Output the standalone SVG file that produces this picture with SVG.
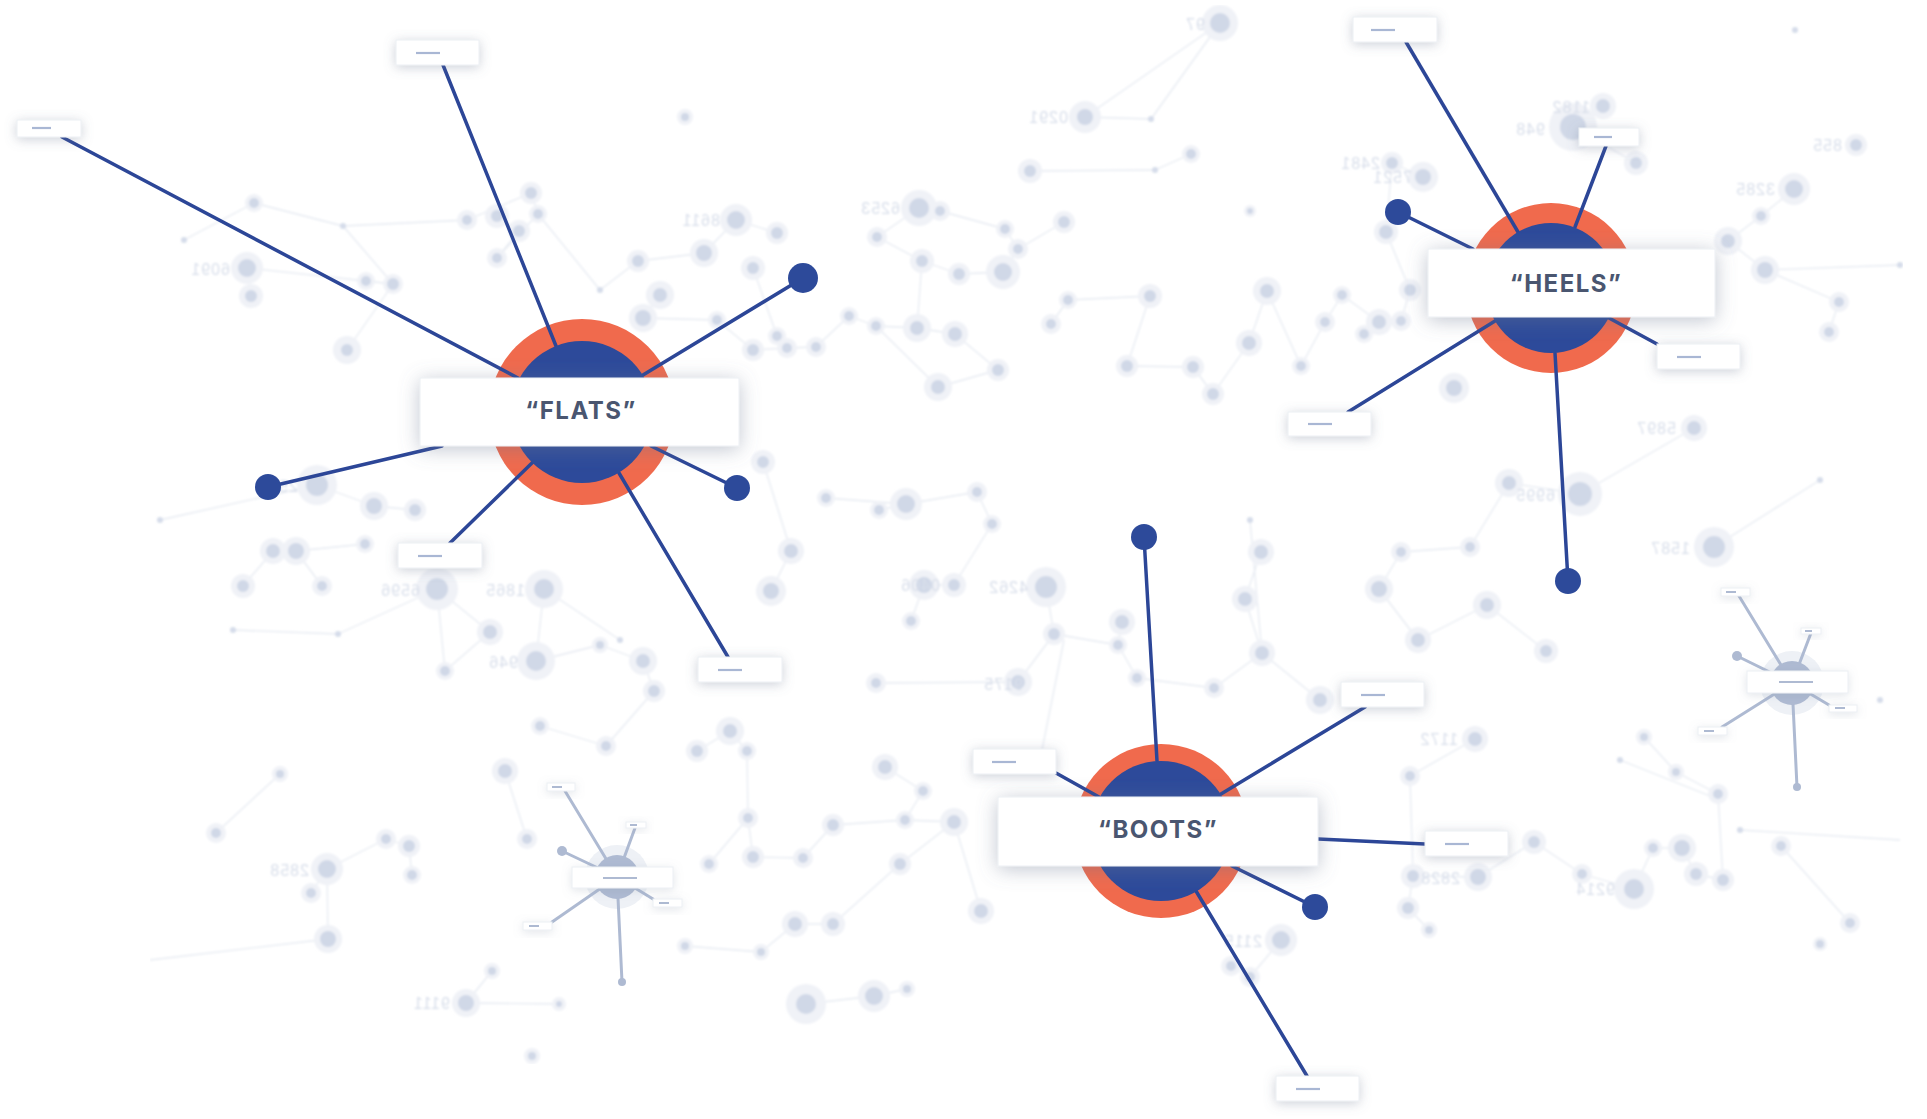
<svg xmlns="http://www.w3.org/2000/svg" width="1927" height="1119" viewBox="0 0 1927 1119">
<defs>
<style>
.bgl{stroke:#e7ebf2;stroke-width:1.3;fill:none}
.halo{fill:#f0f2f7}
.core{fill:#d0d8e7}
.pt{fill:#d5dcea}
.bgt{font-family:"Liberation Sans",Arial,sans-serif;font-size:16px;fill:#d8deea;letter-spacing:1px}
.ring{fill:#f06a4d}
.hub{fill:#2d4a9a}
.spoke{stroke:#2c4697;stroke-width:3.5;fill:none;stroke-linecap:round}
.dot{fill:#2d4a9a}
.box{fill:#ffffff;stroke:#eceff4;stroke-width:1}
.dash{stroke:#a9b7d4;stroke-width:2.2}
.lbl{font-family:Inter,"Liberation Sans",Arial,sans-serif;font-weight:700;font-size:24px;fill:#4a5670;letter-spacing:1.5px;text-anchor:middle}
.fsp{stroke:#aebad2;stroke-width:3;stroke-linecap:round;fill:none}
.fhub{fill:#aebad2}
.fhalo{fill:#eef1f6}
.fdash{stroke:#aebad2;stroke-width:2}
</style>
<filter id="sh" x="-20%" y="-60%" width="140%" height="220%">
<feDropShadow dx="0" dy="3" stdDeviation="10" flood-color="#6d7890" flood-opacity="0.42"/>
</filter>
<filter id="ssh" x="-40%" y="-100%" width="180%" height="300%">
<feDropShadow dx="0" dy="2" stdDeviation="6" flood-color="#6d7890" flood-opacity="0.35"/>
</filter>
<filter id="fsh" x="-40%" y="-100%" width="180%" height="300%">
<feDropShadow dx="0" dy="2" stdDeviation="5" flood-color="#8a93a8" flood-opacity="0.25"/>
</filter>
<filter id="soft" x="0" y="0" width="100%" height="100%">
<feGaussianBlur stdDeviation="0.8"/>
</filter>
</defs>
<rect width="1927" height="1119" fill="#ffffff"/>

<g id="background" filter="url(#soft)">
<g class="bgl">
<line x1="184" y1="240" x2="254" y2="203"/><line x1="254" y1="203" x2="343" y2="226"/><line x1="343" y1="226" x2="393" y2="284"/>
<line x1="393" y1="284" x2="347" y2="350"/><line x1="247" y1="268" x2="366" y2="281"/><line x1="366" y1="281" x2="393" y2="284"/>
<line x1="343" y1="226" x2="467" y2="220"/><line x1="467" y1="220" x2="531" y2="193"/><line x1="497" y1="216" x2="519" y2="231"/>
<line x1="519" y1="231" x2="497" y2="258"/><line x1="497" y1="258" x2="538" y2="214"/><line x1="538" y1="214" x2="600" y2="290"/>
<line x1="531" y1="193" x2="538" y2="214"/><line x1="600" y1="290" x2="638" y2="261"/><line x1="638" y1="261" x2="704" y2="253"/>
<line x1="704" y1="253" x2="736" y2="220"/><line x1="736" y1="220" x2="777" y2="233"/><line x1="753" y1="268" x2="777" y2="336"/>
<line x1="660" y1="295" x2="643" y2="318"/><line x1="643" y1="318" x2="717" y2="320"/><line x1="717" y1="320" x2="753" y2="350"/>
<line x1="753" y1="350" x2="787" y2="348"/><line x1="787" y1="348" x2="816" y2="347"/><line x1="816" y1="347" x2="849" y2="316"/>
<line x1="849" y1="316" x2="876" y2="326"/><line x1="876" y1="326" x2="917" y2="328"/><line x1="917" y1="328" x2="955" y2="334"/>
<line x1="919" y1="208" x2="940" y2="211"/><line x1="877" y1="237" x2="919" y2="208"/><line x1="877" y1="237" x2="922" y2="261"/>
<line x1="922" y1="261" x2="959" y2="274"/><line x1="959" y1="274" x2="1003" y2="272"/><line x1="1003" y1="272" x2="1018" y2="249"/>
<line x1="1018" y1="249" x2="1064" y2="222"/><line x1="1005" y1="229" x2="1018" y2="249"/><line x1="940" y1="211" x2="1005" y2="229"/>
<line x1="922" y1="261" x2="917" y2="328"/><line x1="955" y1="334" x2="998" y2="370"/><line x1="998" y1="370" x2="938" y2="387"/>
<line x1="938" y1="387" x2="876" y2="326"/><line x1="1051" y1="324" x2="1068" y2="300"/><line x1="1068" y1="300" x2="1150" y2="296"/>
<line x1="1150" y1="296" x2="1127" y2="366"/><line x1="1127" y1="366" x2="1193" y2="367"/><line x1="1193" y1="367" x2="1213" y2="394"/>
<line x1="1213" y1="394" x2="1249" y2="343"/><line x1="1249" y1="343" x2="1267" y2="291"/><line x1="1267" y1="291" x2="1301" y2="366"/>
<line x1="1301" y1="366" x2="1325" y2="322"/><line x1="1325" y1="322" x2="1342" y2="295"/><line x1="1342" y1="295" x2="1379" y2="322"/>
<line x1="1379" y1="322" x2="1401" y2="321"/><line x1="1401" y1="321" x2="1410" y2="290"/><line x1="1410" y1="290" x2="1386" y2="232"/>
<line x1="1386" y1="232" x2="1392" y2="163"/><line x1="1392" y1="163" x2="1423" y2="177"/>
<line x1="1085" y1="117" x2="1220" y2="23"/><line x1="1151" y1="119" x2="1220" y2="23"/><line x1="1085" y1="117" x2="1151" y2="119"/>
<line x1="1030" y1="171" x2="1155" y2="170"/><line x1="1155" y1="170" x2="1191" y2="154"/>
<line x1="1603" y1="106" x2="1573" y2="127"/><line x1="1636" y1="163" x2="1573" y2="127"/>
<line x1="1794" y1="189" x2="1761" y2="216"/><line x1="1761" y1="216" x2="1728" y2="241"/><line x1="1728" y1="241" x2="1765" y2="270"/>
<line x1="1765" y1="270" x2="1839" y2="302"/><line x1="1839" y1="302" x2="1829" y2="332"/><line x1="1765" y1="270" x2="1900" y2="265"/>
<line x1="1694" y1="428" x2="1580" y2="494"/><line x1="1580" y1="494" x2="1509" y2="483"/><line x1="1509" y1="483" x2="1470" y2="547"/>
<line x1="1470" y1="547" x2="1401" y2="552"/><line x1="1401" y1="552" x2="1379" y2="589"/><line x1="1379" y1="589" x2="1418" y2="640"/>
<line x1="1418" y1="640" x2="1487" y2="605"/><line x1="1487" y1="605" x2="1546" y2="651"/><line x1="1714" y1="547" x2="1820" y2="480"/>
<line x1="1475" y1="739" x2="1410" y2="776"/><line x1="1410" y1="776" x2="1413" y2="876"/><line x1="1413" y1="876" x2="1478" y2="877"/>
<line x1="1478" y1="877" x2="1534" y2="842"/><line x1="1534" y1="842" x2="1582" y2="874"/><line x1="1582" y1="874" x2="1634" y2="889"/>
<line x1="1634" y1="889" x2="1653" y2="848"/><line x1="1653" y1="848" x2="1682" y2="848"/><line x1="1682" y1="848" x2="1696" y2="874"/>
<line x1="1696" y1="874" x2="1723" y2="880"/><line x1="1718" y1="794" x2="1676" y2="772"/><line x1="1676" y1="772" x2="1644" y2="737"/>
<line x1="1718" y1="794" x2="1723" y2="880"/><line x1="1781" y1="846" x2="1850" y2="923"/><line x1="1408" y1="908" x2="1429" y2="930"/>
<line x1="1413" y1="876" x2="1408" y2="908"/><line x1="1620" y1="760" x2="1720" y2="800"/><line x1="1740" y1="830" x2="1900" y2="840"/>
<line x1="317" y1="485" x2="374" y2="506"/><line x1="374" y1="506" x2="415" y2="510"/><line x1="273" y1="551" x2="296" y2="551"/>
<line x1="296" y1="551" x2="365" y2="544"/><line x1="243" y1="586" x2="273" y2="551"/><line x1="322" y1="586" x2="296" y2="551"/>
<line x1="437" y1="589" x2="490" y2="632"/><line x1="437" y1="589" x2="445" y2="671"/><line x1="490" y1="632" x2="445" y2="671"/>
<line x1="437" y1="589" x2="338" y2="634"/><line x1="338" y1="634" x2="233" y2="630"/><line x1="544" y1="589" x2="536" y2="661"/>
<line x1="536" y1="661" x2="600" y2="645"/><line x1="600" y1="645" x2="643" y2="661"/><line x1="643" y1="661" x2="654" y2="691"/>
<line x1="654" y1="691" x2="606" y2="746"/><line x1="606" y1="746" x2="540" y2="726"/><line x1="771" y1="591" x2="791" y2="551"/>
<line x1="791" y1="551" x2="763" y2="462"/><line x1="826" y1="498" x2="906" y2="504"/><line x1="906" y1="504" x2="879" y2="510"/>
<line x1="906" y1="504" x2="977" y2="492"/><line x1="977" y1="492" x2="992" y2="524"/><line x1="992" y1="524" x2="954" y2="585"/>
<line x1="954" y1="585" x2="924" y2="585"/><line x1="924" y1="585" x2="911" y2="621"/><line x1="1046" y1="587" x2="1054" y2="634"/>
<line x1="1054" y1="634" x2="1118" y2="645"/><line x1="1122" y1="622" x2="1118" y2="645"/><line x1="1118" y1="645" x2="1137" y2="678"/>
<line x1="1137" y1="678" x2="1214" y2="688"/><line x1="1214" y1="688" x2="1262" y2="653"/><line x1="1262" y1="653" x2="1245" y2="599"/>
<line x1="1245" y1="599" x2="1261" y2="552"/><line x1="1262" y1="653" x2="1320" y2="700"/><line x1="1018" y1="682" x2="1054" y2="634"/>
<line x1="876" y1="683" x2="1018" y2="682"/><line x1="730" y1="731" x2="697" y2="751"/><line x1="730" y1="731" x2="747" y2="751"/>
<line x1="747" y1="751" x2="748" y2="818"/><line x1="748" y1="818" x2="709" y2="864"/><line x1="748" y1="818" x2="753" y2="857"/>
<line x1="753" y1="857" x2="803" y2="858"/><line x1="803" y1="858" x2="833" y2="825"/><line x1="833" y1="825" x2="905" y2="820"/>
<line x1="905" y1="820" x2="923" y2="791"/><line x1="905" y1="820" x2="954" y2="822"/><line x1="885" y1="767" x2="923" y2="791"/>
<line x1="900" y1="864" x2="954" y2="822"/><line x1="900" y1="864" x2="833" y2="924"/><line x1="833" y1="924" x2="795" y2="924"/>
<line x1="795" y1="924" x2="761" y2="952"/><line x1="981" y1="911" x2="954" y2="822"/><line x1="874" y1="996" x2="907" y2="989"/>
<line x1="806" y1="1004" x2="874" y2="996"/><line x1="685" y1="946" x2="761" y2="952"/><line x1="505" y1="771" x2="527" y2="839"/>
<line x1="409" y1="846" x2="386" y2="839"/><line x1="386" y1="839" x2="327" y2="869"/><line x1="327" y1="869" x2="311" y2="893"/>
<line x1="327" y1="869" x2="328" y2="939"/><line x1="412" y1="875" x2="409" y2="846"/><line x1="466" y1="1003" x2="559" y2="1004"/>
<line x1="466" y1="1003" x2="492" y2="971"/><line x1="216" y1="833" x2="280" y2="774"/><line x1="1250" y1="977" x2="1281" y2="940"/>
<line x1="1231" y1="966" x2="1250" y2="977"/><line x1="160" y1="520" x2="317" y2="485"/><line x1="150" y1="960" x2="328" y2="939"/>
<line x1="544" y1="589" x2="620" y2="640"/><line x1="1064" y1="640" x2="1040" y2="760"/><line x1="1250" y1="520" x2="1262" y2="653"/>
</g>
<g>
<circle class="halo" cx="1220" cy="23" r="18"/><circle class="core" cx="1220" cy="23" r="10"/>
<circle class="halo" cx="1085" cy="117" r="16"/><circle class="core" cx="1085" cy="117" r="8"/>
<circle class="halo" cx="1030" cy="171" r="12"/><circle class="core" cx="1030" cy="171" r="6"/>
<circle class="halo" cx="1191" cy="154" r="9"/><circle class="core" cx="1191" cy="154" r="5"/>
<circle class="halo" cx="685" cy="117" r="8"/><circle class="core" cx="685" cy="117" r="4"/>
<circle class="halo" cx="1603" cy="106" r="13"/><circle class="core" cx="1603" cy="106" r="7"/>
<circle class="halo" cx="1573" cy="127" r="24"/><circle class="core" cx="1573" cy="127" r="13"/>
<circle class="halo" cx="1636" cy="163" r="12"/><circle class="core" cx="1636" cy="163" r="6"/>
<circle class="halo" cx="1423" cy="177" r="15"/><circle class="core" cx="1423" cy="177" r="8"/>
<circle class="halo" cx="1392" cy="163" r="11"/><circle class="core" cx="1392" cy="163" r="6"/>
<circle class="halo" cx="1386" cy="232" r="12"/><circle class="core" cx="1386" cy="232" r="7"/>
<circle class="halo" cx="1794" cy="189" r="16"/><circle class="core" cx="1794" cy="189" r="9"/>
<circle class="halo" cx="1856" cy="145" r="11"/><circle class="core" cx="1856" cy="145" r="6"/>
<circle class="halo" cx="1728" cy="241" r="14"/><circle class="core" cx="1728" cy="241" r="7"/>
<circle class="halo" cx="1765" cy="270" r="14"/><circle class="core" cx="1765" cy="270" r="8"/>
<circle class="halo" cx="1839" cy="302" r="10"/><circle class="core" cx="1839" cy="302" r="5"/>
<circle class="halo" cx="1829" cy="332" r="10"/><circle class="core" cx="1829" cy="332" r="5"/>
<circle class="halo" cx="1761" cy="216" r="9"/><circle class="core" cx="1761" cy="216" r="5"/>
<circle class="halo" cx="1694" cy="428" r="13"/><circle class="core" cx="1694" cy="428" r="7"/>
<circle class="halo" cx="1580" cy="494" r="22"/><circle class="core" cx="1580" cy="494" r="12"/>
<circle class="halo" cx="1509" cy="483" r="14"/><circle class="core" cx="1509" cy="483" r="7"/>
<circle class="halo" cx="1714" cy="547" r="20"/><circle class="core" cx="1714" cy="547" r="11"/>
<circle class="halo" cx="1470" cy="547" r="10"/><circle class="core" cx="1470" cy="547" r="5"/>
<circle class="halo" cx="1401" cy="552" r="10"/><circle class="core" cx="1401" cy="552" r="5"/>
<circle class="halo" cx="1379" cy="589" r="14"/><circle class="core" cx="1379" cy="589" r="8"/>
<circle class="halo" cx="1418" cy="640" r="13"/><circle class="core" cx="1418" cy="640" r="7"/>
<circle class="halo" cx="1487" cy="605" r="14"/><circle class="core" cx="1487" cy="605" r="7"/>
<circle class="halo" cx="1546" cy="651" r="12"/><circle class="core" cx="1546" cy="651" r="6"/>
<circle class="halo" cx="1475" cy="739" r="13"/><circle class="core" cx="1475" cy="739" r="7"/>
<circle class="halo" cx="1410" cy="776" r="10"/><circle class="core" cx="1410" cy="776" r="5"/>
<circle class="halo" cx="1534" cy="842" r="12"/><circle class="core" cx="1534" cy="842" r="6"/>
<circle class="halo" cx="1478" cy="877" r="14"/><circle class="core" cx="1478" cy="877" r="8"/>
<circle class="halo" cx="1413" cy="876" r="12"/><circle class="core" cx="1413" cy="876" r="6"/>
<circle class="halo" cx="1408" cy="908" r="11"/><circle class="core" cx="1408" cy="908" r="6"/>
<circle class="halo" cx="1429" cy="930" r="8"/><circle class="core" cx="1429" cy="930" r="4"/>
<circle class="halo" cx="1582" cy="874" r="10"/><circle class="core" cx="1582" cy="874" r="5"/>
<circle class="halo" cx="1634" cy="889" r="20"/><circle class="core" cx="1634" cy="889" r="10"/>
<circle class="halo" cx="1653" cy="848" r="9"/><circle class="core" cx="1653" cy="848" r="5"/>
<circle class="halo" cx="1682" cy="848" r="14"/><circle class="core" cx="1682" cy="848" r="8"/>
<circle class="halo" cx="1696" cy="874" r="12"/><circle class="core" cx="1696" cy="874" r="6"/>
<circle class="halo" cx="1723" cy="880" r="11"/><circle class="core" cx="1723" cy="880" r="6"/>
<circle class="halo" cx="1781" cy="846" r="10"/><circle class="core" cx="1781" cy="846" r="5"/>
<circle class="halo" cx="1718" cy="794" r="10"/><circle class="core" cx="1718" cy="794" r="5"/>
<circle class="halo" cx="1676" cy="772" r="8"/><circle class="core" cx="1676" cy="772" r="4"/>
<circle class="halo" cx="1850" cy="923" r="10"/><circle class="core" cx="1850" cy="923" r="5"/>
<circle class="halo" cx="1820" cy="944" r="7"/><circle class="core" cx="1820" cy="944" r="4"/>
<circle class="halo" cx="1644" cy="737" r="8"/><circle class="core" cx="1644" cy="737" r="4"/>
<circle class="halo" cx="254" cy="203" r="9"/><circle class="core" cx="254" cy="203" r="5"/>
<circle class="halo" cx="247" cy="268" r="16"/><circle class="core" cx="247" cy="268" r="9"/>
<circle class="halo" cx="251" cy="296" r="12"/><circle class="core" cx="251" cy="296" r="6"/>
<circle class="halo" cx="347" cy="350" r="14"/><circle class="core" cx="347" cy="350" r="6"/>
<circle class="halo" cx="393" cy="284" r="10"/><circle class="core" cx="393" cy="284" r="6"/>
<circle class="halo" cx="366" cy="281" r="9"/><circle class="core" cx="366" cy="281" r="5"/>
<circle class="halo" cx="467" cy="220" r="10"/><circle class="core" cx="467" cy="220" r="5"/>
<circle class="halo" cx="497" cy="216" r="12"/><circle class="core" cx="497" cy="216" r="6"/>
<circle class="halo" cx="531" cy="193" r="11"/><circle class="core" cx="531" cy="193" r="6"/>
<circle class="halo" cx="538" cy="214" r="9"/><circle class="core" cx="538" cy="214" r="5"/>
<circle class="halo" cx="519" cy="231" r="11"/><circle class="core" cx="519" cy="231" r="6"/>
<circle class="halo" cx="497" cy="258" r="10"/><circle class="core" cx="497" cy="258" r="5"/>
<circle class="halo" cx="638" cy="261" r="11"/><circle class="core" cx="638" cy="261" r="6"/>
<circle class="halo" cx="704" cy="253" r="14"/><circle class="core" cx="704" cy="253" r="8"/>
<circle class="halo" cx="736" cy="220" r="16"/><circle class="core" cx="736" cy="220" r="9"/>
<circle class="halo" cx="777" cy="233" r="11"/><circle class="core" cx="777" cy="233" r="6"/>
<circle class="halo" cx="753" cy="268" r="12"/><circle class="core" cx="753" cy="268" r="6"/>
<circle class="halo" cx="660" cy="295" r="14"/><circle class="core" cx="660" cy="295" r="7"/>
<circle class="halo" cx="643" cy="318" r="14"/><circle class="core" cx="643" cy="318" r="8"/>
<circle class="halo" cx="717" cy="320" r="9"/><circle class="core" cx="717" cy="320" r="5"/>
<circle class="halo" cx="753" cy="350" r="11"/><circle class="core" cx="753" cy="350" r="6"/>
<circle class="halo" cx="787" cy="348" r="10"/><circle class="core" cx="787" cy="348" r="5"/>
<circle class="halo" cx="777" cy="336" r="9"/><circle class="core" cx="777" cy="336" r="5"/>
<circle class="halo" cx="816" cy="347" r="10"/><circle class="core" cx="816" cy="347" r="5"/>
<circle class="halo" cx="919" cy="208" r="18"/><circle class="core" cx="919" cy="208" r="10"/>
<circle class="halo" cx="940" cy="211" r="10"/><circle class="core" cx="940" cy="211" r="5"/>
<circle class="halo" cx="877" cy="237" r="10"/><circle class="core" cx="877" cy="237" r="5"/>
<circle class="halo" cx="922" cy="261" r="12"/><circle class="core" cx="922" cy="261" r="6"/>
<circle class="halo" cx="959" cy="274" r="11"/><circle class="core" cx="959" cy="274" r="6"/>
<circle class="halo" cx="1003" cy="272" r="17"/><circle class="core" cx="1003" cy="272" r="9"/>
<circle class="halo" cx="1018" cy="249" r="10"/><circle class="core" cx="1018" cy="249" r="5"/>
<circle class="halo" cx="1064" cy="222" r="11"/><circle class="core" cx="1064" cy="222" r="6"/>
<circle class="halo" cx="1005" cy="229" r="9"/><circle class="core" cx="1005" cy="229" r="5"/>
<circle class="halo" cx="917" cy="328" r="14"/><circle class="core" cx="917" cy="328" r="7"/>
<circle class="halo" cx="955" cy="334" r="13"/><circle class="core" cx="955" cy="334" r="7"/>
<circle class="halo" cx="998" cy="370" r="11"/><circle class="core" cx="998" cy="370" r="6"/>
<circle class="halo" cx="938" cy="387" r="14"/><circle class="core" cx="938" cy="387" r="7"/>
<circle class="halo" cx="876" cy="326" r="9"/><circle class="core" cx="876" cy="326" r="5"/>
<circle class="halo" cx="849" cy="316" r="9"/><circle class="core" cx="849" cy="316" r="5"/>
<circle class="halo" cx="1051" cy="324" r="10"/><circle class="core" cx="1051" cy="324" r="5"/>
<circle class="halo" cx="1127" cy="366" r="11"/><circle class="core" cx="1127" cy="366" r="6"/>
<circle class="halo" cx="1150" cy="296" r="12"/><circle class="core" cx="1150" cy="296" r="6"/>
<circle class="halo" cx="1068" cy="300" r="9"/><circle class="core" cx="1068" cy="300" r="5"/>
<circle class="halo" cx="1193" cy="367" r="11"/><circle class="core" cx="1193" cy="367" r="6"/>
<circle class="halo" cx="1213" cy="394" r="11"/><circle class="core" cx="1213" cy="394" r="6"/>
<circle class="halo" cx="1249" cy="343" r="13"/><circle class="core" cx="1249" cy="343" r="7"/>
<circle class="halo" cx="1267" cy="291" r="14"/><circle class="core" cx="1267" cy="291" r="7"/>
<circle class="halo" cx="1301" cy="366" r="9"/><circle class="core" cx="1301" cy="366" r="5"/>
<circle class="halo" cx="1325" cy="322" r="10"/><circle class="core" cx="1325" cy="322" r="5"/>
<circle class="halo" cx="1342" cy="295" r="9"/><circle class="core" cx="1342" cy="295" r="5"/>
<circle class="halo" cx="1379" cy="322" r="13"/><circle class="core" cx="1379" cy="322" r="7"/>
<circle class="halo" cx="1401" cy="321" r="10"/><circle class="core" cx="1401" cy="321" r="5"/>
<circle class="halo" cx="1410" cy="290" r="11"/><circle class="core" cx="1410" cy="290" r="6"/>
<circle class="halo" cx="1454" cy="388" r="15"/><circle class="core" cx="1454" cy="388" r="8"/>
<circle class="halo" cx="317" cy="485" r="20"/><circle class="core" cx="317" cy="485" r="11"/>
<circle class="halo" cx="374" cy="506" r="14"/><circle class="core" cx="374" cy="506" r="8"/>
<circle class="halo" cx="415" cy="510" r="11"/><circle class="core" cx="415" cy="510" r="6"/>
<circle class="halo" cx="273" cy="551" r="13"/><circle class="core" cx="273" cy="551" r="7"/>
<circle class="halo" cx="296" cy="551" r="14"/><circle class="core" cx="296" cy="551" r="8"/>
<circle class="halo" cx="243" cy="586" r="12"/><circle class="core" cx="243" cy="586" r="6"/>
<circle class="halo" cx="322" cy="586" r="10"/><circle class="core" cx="322" cy="586" r="5"/>
<circle class="halo" cx="365" cy="544" r="9"/><circle class="core" cx="365" cy="544" r="5"/>
<circle class="halo" cx="437" cy="589" r="21"/><circle class="core" cx="437" cy="589" r="11"/>
<circle class="halo" cx="490" cy="632" r="13"/><circle class="core" cx="490" cy="632" r="7"/>
<circle class="halo" cx="544" cy="589" r="19"/><circle class="core" cx="544" cy="589" r="10"/>
<circle class="halo" cx="536" cy="661" r="19"/><circle class="core" cx="536" cy="661" r="10"/>
<circle class="halo" cx="445" cy="671" r="9"/><circle class="core" cx="445" cy="671" r="5"/>
<circle class="pt" cx="338" cy="634" r="3"/><circle class="pt" cx="233" cy="630" r="3"/>
<circle class="halo" cx="771" cy="591" r="15"/><circle class="core" cx="771" cy="591" r="8"/>
<circle class="halo" cx="791" cy="551" r="13"/><circle class="core" cx="791" cy="551" r="7"/>
<circle class="halo" cx="763" cy="462" r="12"/><circle class="core" cx="763" cy="462" r="6"/>
<circle class="halo" cx="826" cy="498" r="9"/><circle class="core" cx="826" cy="498" r="5"/>
<circle class="halo" cx="906" cy="504" r="16"/><circle class="core" cx="906" cy="504" r="9"/>
<circle class="halo" cx="879" cy="510" r="9"/><circle class="core" cx="879" cy="510" r="5"/>
<circle class="halo" cx="977" cy="492" r="10"/><circle class="core" cx="977" cy="492" r="5"/>
<circle class="halo" cx="992" cy="524" r="9"/><circle class="core" cx="992" cy="524" r="5"/>
<circle class="halo" cx="924" cy="585" r="15"/><circle class="core" cx="924" cy="585" r="8"/>
<circle class="halo" cx="954" cy="585" r="12"/><circle class="core" cx="954" cy="585" r="6"/>
<circle class="halo" cx="911" cy="621" r="9"/><circle class="core" cx="911" cy="621" r="5"/>
<circle class="halo" cx="1046" cy="587" r="20"/><circle class="core" cx="1046" cy="587" r="11"/>
<circle class="halo" cx="1054" cy="634" r="11"/><circle class="core" cx="1054" cy="634" r="6"/>
<circle class="halo" cx="1018" cy="682" r="14"/><circle class="core" cx="1018" cy="682" r="7"/>
<circle class="halo" cx="876" cy="683" r="10"/><circle class="core" cx="876" cy="683" r="5"/>
<circle class="halo" cx="1122" cy="622" r="13"/><circle class="core" cx="1122" cy="622" r="7"/>
<circle class="halo" cx="1118" cy="645" r="9"/><circle class="core" cx="1118" cy="645" r="5"/>
<circle class="halo" cx="1137" cy="678" r="9"/><circle class="core" cx="1137" cy="678" r="5"/>
<circle class="halo" cx="1261" cy="552" r="13"/><circle class="core" cx="1261" cy="552" r="7"/>
<circle class="halo" cx="1245" cy="599" r="13"/><circle class="core" cx="1245" cy="599" r="7"/>
<circle class="halo" cx="1262" cy="653" r="13"/><circle class="core" cx="1262" cy="653" r="7"/>
<circle class="halo" cx="1320" cy="700" r="14"/><circle class="core" cx="1320" cy="700" r="7"/>
<circle class="halo" cx="1214" cy="688" r="10"/><circle class="core" cx="1214" cy="688" r="5"/>
<circle class="halo" cx="643" cy="661" r="14"/><circle class="core" cx="643" cy="661" r="7"/>
<circle class="halo" cx="654" cy="691" r="11"/><circle class="core" cx="654" cy="691" r="6"/>
<circle class="halo" cx="600" cy="645" r="8"/><circle class="core" cx="600" cy="645" r="4"/>
<circle class="halo" cx="606" cy="746" r="10"/><circle class="core" cx="606" cy="746" r="5"/>
<circle class="halo" cx="540" cy="726" r="9"/><circle class="core" cx="540" cy="726" r="5"/>
<circle class="halo" cx="730" cy="731" r="14"/><circle class="core" cx="730" cy="731" r="7"/>
<circle class="halo" cx="697" cy="751" r="11"/><circle class="core" cx="697" cy="751" r="6"/>
<circle class="halo" cx="747" cy="751" r="9"/><circle class="core" cx="747" cy="751" r="5"/>
<circle class="halo" cx="885" cy="767" r="13"/><circle class="core" cx="885" cy="767" r="7"/>
<circle class="halo" cx="748" cy="818" r="10"/><circle class="core" cx="748" cy="818" r="5"/>
<circle class="halo" cx="753" cy="857" r="11"/><circle class="core" cx="753" cy="857" r="6"/>
<circle class="halo" cx="709" cy="864" r="9"/><circle class="core" cx="709" cy="864" r="5"/>
<circle class="halo" cx="803" cy="858" r="10"/><circle class="core" cx="803" cy="858" r="5"/>
<circle class="halo" cx="833" cy="825" r="11"/><circle class="core" cx="833" cy="825" r="6"/>
<circle class="halo" cx="905" cy="820" r="9"/><circle class="core" cx="905" cy="820" r="5"/>
<circle class="halo" cx="923" cy="791" r="9"/><circle class="core" cx="923" cy="791" r="5"/>
<circle class="halo" cx="954" cy="822" r="14"/><circle class="core" cx="954" cy="822" r="7"/>
<circle class="halo" cx="981" cy="911" r="13"/><circle class="core" cx="981" cy="911" r="7"/>
<circle class="halo" cx="900" cy="864" r="11"/><circle class="core" cx="900" cy="864" r="6"/>
<circle class="halo" cx="833" cy="924" r="12"/><circle class="core" cx="833" cy="924" r="6"/>
<circle class="halo" cx="795" cy="924" r="13"/><circle class="core" cx="795" cy="924" r="7"/>
<circle class="halo" cx="761" cy="952" r="8"/><circle class="core" cx="761" cy="952" r="4"/>
<circle class="halo" cx="874" cy="996" r="16"/><circle class="core" cx="874" cy="996" r="9"/>
<circle class="halo" cx="806" cy="1004" r="20"/><circle class="core" cx="806" cy="1004" r="10"/>
<circle class="halo" cx="907" cy="989" r="8"/><circle class="core" cx="907" cy="989" r="4"/>
<circle class="halo" cx="685" cy="946" r="8"/><circle class="core" cx="685" cy="946" r="4"/>
<circle class="halo" cx="505" cy="771" r="13"/><circle class="core" cx="505" cy="771" r="7"/>
<circle class="halo" cx="527" cy="839" r="10"/><circle class="core" cx="527" cy="839" r="5"/>
<circle class="halo" cx="409" cy="846" r="11"/><circle class="core" cx="409" cy="846" r="6"/>
<circle class="halo" cx="386" cy="839" r="10"/><circle class="core" cx="386" cy="839" r="5"/>
<circle class="halo" cx="327" cy="869" r="16"/><circle class="core" cx="327" cy="869" r="9"/>
<circle class="halo" cx="311" cy="893" r="10"/><circle class="core" cx="311" cy="893" r="5"/>
<circle class="halo" cx="328" cy="939" r="14"/><circle class="core" cx="328" cy="939" r="8"/>
<circle class="halo" cx="412" cy="875" r="9"/><circle class="core" cx="412" cy="875" r="5"/>
<circle class="halo" cx="466" cy="1003" r="14"/><circle class="core" cx="466" cy="1003" r="8"/>
<circle class="halo" cx="492" cy="971" r="8"/><circle class="core" cx="492" cy="971" r="4"/>
<circle class="halo" cx="559" cy="1004" r="7"/><circle class="core" cx="559" cy="1004" r="3"/>
<circle class="halo" cx="532" cy="1056" r="8"/><circle class="core" cx="532" cy="1056" r="4"/>
<circle class="halo" cx="280" cy="774" r="8"/><circle class="core" cx="280" cy="774" r="4"/>
<circle class="halo" cx="216" cy="833" r="10"/><circle class="core" cx="216" cy="833" r="5"/>
<circle class="halo" cx="1250" cy="977" r="10"/><circle class="core" cx="1250" cy="977" r="5"/>
<circle class="halo" cx="1281" cy="940" r="16"/><circle class="core" cx="1281" cy="940" r="9"/>
<circle class="halo" cx="1231" cy="966" r="10"/><circle class="core" cx="1231" cy="966" r="5"/>
<circle class="halo" cx="1250" cy="211" r="6"/><circle class="core" cx="1250" cy="211" r="3"/>
<circle class="halo" cx="1364" cy="334" r="9"/><circle class="core" cx="1364" cy="334" r="5"/>
<circle class="pt" cx="1151" cy="119" r="3"/><circle class="pt" cx="1155" cy="170" r="3"/><circle class="pt" cx="343" cy="226" r="3"/>
<circle class="pt" cx="600" cy="290" r="3"/><circle class="pt" cx="184" cy="240" r="3"/><circle class="pt" cx="1820" cy="480" r="3"/>
<circle class="pt" cx="1900" cy="265" r="3"/><circle class="pt" cx="1620" cy="760" r="3"/><circle class="pt" cx="1740" cy="830" r="3"/>
<circle class="pt" cx="160" cy="520" r="3"/><circle class="pt" cx="620" cy="640" r="3"/><circle class="pt" cx="1040" cy="760" r="3"/>
<circle class="pt" cx="1250" cy="520" r="3"/><circle class="pt" cx="1795" cy="30" r="3"/><circle class="pt" cx="1880" cy="700" r="3"/>
</g>
<g class="bgt">
<text transform="translate(1205,30) scale(-1,1)">97</text>
<text transform="translate(1068,123) scale(-1,1)">0291</text>
<text transform="translate(1545,135) scale(-1,1)">948</text>
<text transform="translate(1590,113) scale(-1,1)">1182</text>
<text transform="translate(1412,183) scale(-1,1)">7521</text>
<text transform="translate(1380,169) scale(-1,1)">2481</text>
<text transform="translate(1775,195) scale(-1,1)">3285</text>
<text transform="translate(1842,151) scale(-1,1)">855</text>
<text transform="translate(1676,434) scale(-1,1)">5897</text>
<text transform="translate(1555,501) scale(-1,1)">6995</text>
<text transform="translate(1690,554) scale(-1,1)">1587</text>
<text transform="translate(230,275) scale(-1,1)">6091</text>
<text transform="translate(900,214) scale(-1,1)">6253</text>
<text transform="translate(720,226) scale(-1,1)">8611</text>
<text transform="translate(298,492) scale(-1,1)">2524</text>
<text transform="translate(420,596) scale(-1,1)">6596</text>
<text transform="translate(525,596) scale(-1,1)">1865</text>
<text transform="translate(518,668) scale(-1,1)">946</text>
<text transform="translate(1028,593) scale(-1,1)">4262</text>
<text transform="translate(1023,690) scale(-1,1)">9175</text>
<text transform="translate(940,591) scale(-1,1)">0406</text>
<text transform="translate(1262,947) scale(-1,1)">2115</text>
<text transform="translate(309,876) scale(-1,1)">2858</text>
<text transform="translate(450,1009) scale(-1,1)">9111</text>
<text transform="translate(1460,884) scale(-1,1)">2828</text>
<text transform="translate(1458,745) scale(-1,1)">1172</text>
<text transform="translate(1615,895) scale(-1,1)">9214</text>
</g>
</g>

<g id="cluster-a">
<circle class="fhalo" cx="617" cy="877" r="32"/>
<g class="fsp">
<line x1="565" y1="791" x2="617" y2="877"/><line x1="635" y1="828" x2="617" y2="877"/>
<line x1="562" y1="851" x2="617" y2="877"/><line x1="653" y1="899" x2="617" y2="877"/>
<line x1="552" y1="922" x2="617" y2="877"/><line x1="617" y1="877" x2="622" y2="982"/>
</g>
<circle class="fhub" cx="617" cy="877" r="22"/>
<circle class="fhub" cx="562" cy="851" r="5"/><circle class="fhub" cx="622" cy="982" r="4"/>
<rect class="box" filter="url(#fsh)" x="572" y="867" width="101" height="21"/><line class="fdash" x1="603" y1="878" x2="637" y2="878"/>
<rect class="box" filter="url(#fsh)" x="547" y="783" width="28" height="8"/><line class="fdash" x1="552" y1="787" x2="562" y2="787"/>
<rect class="box" filter="url(#fsh)" x="626" y="822" width="20" height="6"/><line class="fdash" x1="630" y1="825" x2="637" y2="825"/>
<rect class="box" filter="url(#fsh)" x="653" y="899" width="29" height="8"/><line class="fdash" x1="659" y1="903" x2="669" y2="903"/>
<rect class="box" filter="url(#fsh)" x="523" y="922" width="29" height="8"/><line class="fdash" x1="529" y1="926" x2="539" y2="926"/>
</g>

<g id="cluster-b">
<circle class="fhalo" cx="1792" cy="683" r="32"/>
<g class="fsp">
<line x1="1739" y1="596" x2="1792" y2="683"/><line x1="1811" y1="633" x2="1792" y2="683"/>
<line x1="1737" y1="656" x2="1792" y2="683"/><line x1="1829" y1="705" x2="1792" y2="683"/>
<line x1="1722" y1="727" x2="1792" y2="683"/><line x1="1792" y1="683" x2="1797" y2="787"/>
</g>
<circle class="fhub" cx="1792" cy="683" r="22"/>
<circle class="fhub" cx="1737" cy="656" r="5"/><circle class="fhub" cx="1797" cy="787" r="4"/>
<rect class="box" filter="url(#fsh)" x="1747" y="671" width="101" height="22"/><line class="fdash" x1="1779" y1="682" x2="1813" y2="682"/>
<rect class="box" filter="url(#fsh)" x="1721" y="588" width="29" height="8"/><line class="fdash" x1="1726" y1="592" x2="1736" y2="592"/>
<rect class="box" filter="url(#fsh)" x="1801" y="628" width="20" height="6"/><line class="fdash" x1="1805" y1="631" x2="1812" y2="631"/>
<rect class="box" filter="url(#fsh)" x="1829" y="705" width="28" height="7"/><line class="fdash" x1="1835" y1="708" x2="1845" y2="708"/>
<rect class="box" filter="url(#fsh)" x="1698" y="727" width="29" height="8"/><line class="fdash" x1="1704" y1="731" x2="1714" y2="731"/>
</g>

<g id="flats">
<circle class="ring" cx="582" cy="412" r="93"/>
</g>
<g id="heels">
<circle class="ring" cx="1551" cy="288" r="85"/>
</g>
<g id="boots">
<circle class="ring" cx="1161" cy="831" r="87"/>
</g>

<g id="connectors" class="spoke">
<line x1="556" y1="346" x2="443" y2="65"/>
<line x1="518" y1="378" x2="62" y2="137"/>
<line x1="643" y1="375" x2="803" y2="278"/>
<line x1="442" y1="446" x2="268" y2="487"/>
<line x1="651" y1="446" x2="737" y2="488"/>
<line x1="533" y1="462" x2="450" y2="543"/>
<line x1="619" y1="473" x2="728" y2="657"/>
<line x1="1518" y1="232" x2="1406" y2="42"/>
<line x1="1575" y1="227" x2="1606" y2="146"/>
<line x1="1473" y1="249" x2="1398" y2="212"/>
<line x1="1609" y1="318" x2="1657" y2="344"/>
<line x1="1495" y1="321" x2="1348" y2="412"/>
<line x1="1555" y1="353" x2="1568" y2="581"/>
<line x1="1157" y1="761" x2="1144" y2="537"/>
<line x1="1099" y1="797" x2="1056" y2="773"/>
<line x1="1221" y1="794" x2="1365" y2="707"/>
<line x1="1318" y1="839" x2="1425" y2="844"/>
<line x1="1232" y1="866" x2="1315" y2="907"/>
<line x1="1196" y1="891" x2="1307" y2="1076"/>
</g>

<g id="flats-core">
<circle class="hub" cx="582" cy="412" r="71"/>
<rect class="box" filter="url(#sh)" x="420" y="378" width="319" height="68"/>
<text class="lbl" x="581" y="419">“FLATS”</text>
</g>
<g id="heels-core">
<circle class="hub" cx="1551" cy="288" r="65"/>
<rect class="box" filter="url(#sh)" x="1428" y="249" width="287" height="68"/>
<text class="lbl" x="1566" y="292">“HEELS”</text>
</g>
<g id="boots-core">
<circle class="hub" cx="1161" cy="831" r="70"/>
<rect class="box" filter="url(#sh)" x="998" y="797" width="320" height="69"/>
<text class="lbl" x="1158" y="838">“BOOTS”</text>
</g>

<g id="flats-dot-1"><circle class="dot" cx="803" cy="278" r="15"/></g>
<g id="flats-dot-2"><circle class="dot" cx="268" cy="487" r="13"/></g>
<g id="flats-dot-3"><circle class="dot" cx="737" cy="488" r="13"/></g>
<g id="heels-dot-1"><circle class="dot" cx="1398" cy="212" r="13"/></g>
<g id="heels-dot-2"><circle class="dot" cx="1568" cy="581" r="13"/></g>
<g id="boots-dot-1"><circle class="dot" cx="1144" cy="537" r="13"/></g>
<g id="boots-dot-2"><circle class="dot" cx="1315" cy="907" r="13"/></g>

<g id="flats-tag-1"><rect class="box" filter="url(#ssh)" x="396" y="40" width="83" height="25"/><line class="dash" x1="416" y1="53" x2="440" y2="53"/></g>
<g id="flats-tag-2"><rect class="box" filter="url(#ssh)" x="17" y="120" width="64" height="17"/><line class="dash" x1="32" y1="128" x2="51" y2="128"/></g>
<g id="flats-tag-3"><rect class="box" filter="url(#ssh)" x="398" y="543" width="84" height="25"/><line class="dash" x1="418" y1="556" x2="442" y2="556"/></g>
<g id="flats-tag-4"><rect class="box" filter="url(#ssh)" x="698" y="657" width="84" height="25"/><line class="dash" x1="718" y1="670" x2="742" y2="670"/></g>
<g id="heels-tag-1"><rect class="box" filter="url(#ssh)" x="1353" y="17" width="84" height="25"/><line class="dash" x1="1371" y1="30" x2="1395" y2="30"/></g>
<g id="heels-tag-2"><rect class="box" filter="url(#ssh)" x="1579" y="128" width="60" height="18"/><line class="dash" x1="1594" y1="137" x2="1612" y2="137"/></g>
<g id="heels-tag-3"><rect class="box" filter="url(#ssh)" x="1657" y="344" width="83" height="25"/><line class="dash" x1="1677" y1="357" x2="1701" y2="357"/></g>
<g id="heels-tag-4"><rect class="box" filter="url(#ssh)" x="1288" y="412" width="83" height="24"/><line class="dash" x1="1308" y1="424" x2="1332" y2="424"/></g>
<g id="boots-tag-1"><rect class="box" filter="url(#ssh)" x="973" y="749" width="83" height="25"/><line class="dash" x1="992" y1="762" x2="1016" y2="762"/></g>
<g id="boots-tag-2"><rect class="box" filter="url(#ssh)" x="1341" y="682" width="83" height="25"/><line class="dash" x1="1361" y1="695" x2="1385" y2="695"/></g>
<g id="boots-tag-3"><rect class="box" filter="url(#ssh)" x="1425" y="831" width="83" height="25"/><line class="dash" x1="1445" y1="844" x2="1469" y2="844"/></g>
<g id="boots-tag-4"><rect class="box" filter="url(#ssh)" x="1276" y="1076" width="83" height="25"/><line class="dash" x1="1296" y1="1089" x2="1320" y2="1089"/></g>
</svg>
